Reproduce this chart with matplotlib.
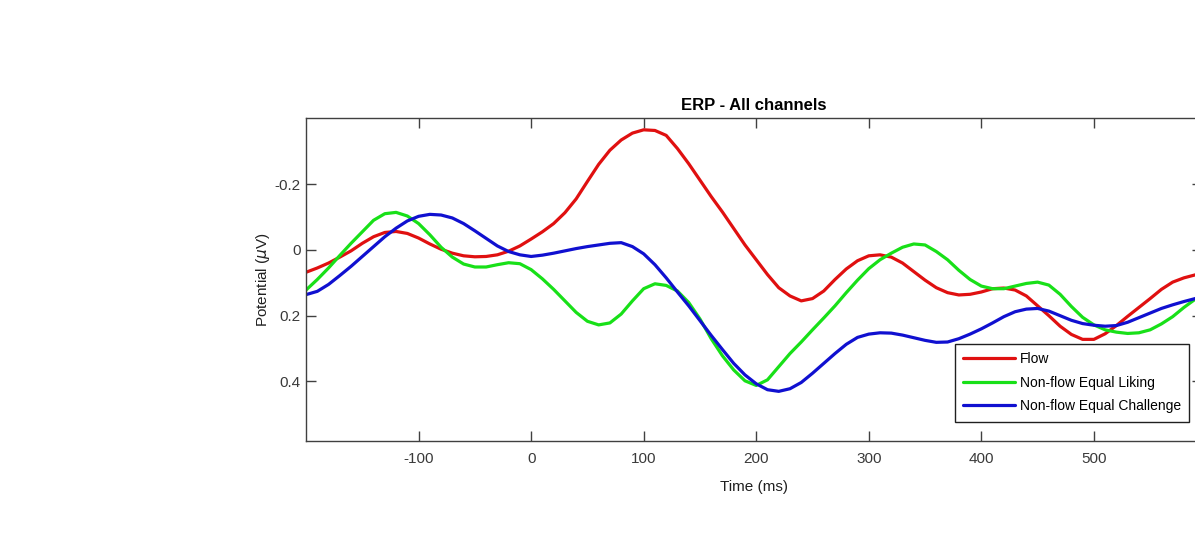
import matplotlib.pyplot as plt
import numpy as np

# Grand-average ERP over all channels, sampled every 10 ms
time_ms = np.arange(-200, 601, 10)

flow = [
    0.068, 0.055, 0.040, 0.022, 0.003, -0.020, -0.040, -0.053, -0.056, -0.050,
    -0.036, -0.018, -0.002, 0.010, 0.018, 0.021, 0.020, 0.015, 0.004, -0.012,
    -0.033, -0.055, -0.080, -0.113, -0.155, -0.208, -0.260, -0.303, -0.334, -0.355,
    -0.365, -0.363, -0.348, -0.308, -0.262, -0.212, -0.162, -0.115, -0.065, -0.015,
    0.030, 0.075, 0.115, 0.140, 0.155, 0.148, 0.125, 0.090, 0.058, 0.033,
    0.018, 0.015, 0.022, 0.040, 0.066, 0.092, 0.115, 0.130, 0.137, 0.135,
    0.128, 0.118, 0.116, 0.122, 0.140, 0.170, 0.200, 0.232, 0.257, 0.272,
    0.272, 0.255, 0.230, 0.202, 0.175, 0.148, 0.120, 0.098, 0.085, 0.076,
    0.070,
]
equal_liking = [
    0.122, 0.090, 0.055, 0.017, -0.020, -0.055, -0.090, -0.110, -0.114, -0.103,
    -0.080, -0.046, -0.008, 0.022, 0.043, 0.052, 0.052, 0.045, 0.039, 0.042,
    0.060, 0.088, 0.120, 0.155, 0.190, 0.217, 0.228, 0.222, 0.195, 0.155,
    0.118, 0.103, 0.108, 0.125, 0.160, 0.210, 0.270, 0.322, 0.365, 0.398,
    0.412, 0.395, 0.355, 0.315, 0.280, 0.243, 0.207, 0.170, 0.130, 0.092,
    0.057, 0.030, 0.010, -0.008, -0.018, -0.015, 0.005, 0.030, 0.062, 0.090,
    0.110, 0.118, 0.118, 0.110, 0.102, 0.098, 0.107, 0.135, 0.172, 0.205,
    0.228, 0.243, 0.250, 0.254, 0.252, 0.243, 0.225, 0.203, 0.175, 0.150,
    0.130,
]
equal_challenge = [
    0.136, 0.126, 0.105, 0.078, 0.050, 0.020, -0.010, -0.040, -0.066, -0.088,
    -0.102, -0.108, -0.106, -0.097, -0.080, -0.058, -0.035, -0.012, 0.005, 0.015,
    0.020, 0.016, 0.010, 0.003, -0.004, -0.010, -0.015, -0.020, -0.022, -0.010,
    0.012, 0.045, 0.085, 0.128, 0.170, 0.215, 0.260, 0.303, 0.345, 0.380,
    0.407, 0.425, 0.430, 0.422, 0.403, 0.375, 0.345, 0.315, 0.287, 0.266,
    0.256, 0.252, 0.253, 0.259, 0.267, 0.275, 0.281, 0.280, 0.270, 0.256,
    0.240, 0.222, 0.203, 0.188, 0.180, 0.178, 0.186, 0.200, 0.214, 0.224,
    0.229, 0.232, 0.230, 0.220, 0.206, 0.192, 0.178, 0.167, 0.157, 0.148,
    0.140,
]

labels = ["Flow", "Non-flow Equal Liking", "Non-flow Equal Challenge"]
colors = ["#e01010", "#18e018", "#1010d0"]

x_ticks = [-100, 0, 100, 200, 300, 400, 500]
y_ticks = [-0.2, 0, 0.2, 0.4]
y_tick_labels = ["-0.2", "0", "0.2", "0.4"]

plt.rcParams["font.family"] = ["Liberation Sans", "DejaVu Sans"]
plt.rcParams["axes.unicode_minus"] = False

fig = plt.figure(figsize=(11.95, 5.36), dpi=100)
# the axes run a little past the right edge of the figure
ax = fig.add_axes([0.2561, 0.1778, 0.7497, 0.6015])

for series, label, color in zip([flow, equal_liking, equal_challenge], labels, colors):
    ax.plot(time_ms, series, color=color, linewidth=2.3, label=label,
            solid_joinstyle="round", solid_capstyle="round")

# negative up, as usual for ERP plots
ax.set_xlim(-200, 596)
ax.set_ylim(0.58, -0.4)
ax.set_xticks(x_ticks)
ax.set_yticks(y_ticks)
ax.set_yticklabels(y_tick_labels)

axis_gray = "#404040"
for spine in ax.spines.values():
    spine.set_color(axis_gray)
    spine.set_linewidth(1.0)
ax.tick_params(direction="in", length=7, width=1.0, top=True, right=True,
               colors=axis_gray, labelsize=11, pad=4)
ax.tick_params(axis="x", pad=8)
for lbl in ax.get_xticklabels() + ax.get_yticklabels():
    lbl.set_color("#3a3a3a")

ax.set_title("ERP - All channels", fontsize=12, fontweight="bold", pad=6)
ax.set_xlabel("Time (ms)", fontsize=11, labelpad=10, color="#202020")
ax.set_ylabel(r"Potential ($\mu$V)", fontsize=11, labelpad=2, color="#202020")

leg = ax.legend(loc="upper left", bbox_to_anchor=(955 / 1195, 1 - 344 / 536),
                bbox_transform=fig.transFigure, borderaxespad=0, fontsize=10,
                handlelength=3.75, handletextpad=0.3, labelspacing=0.68,
                borderpad=0.6, fancybox=False, framealpha=1)
leg.get_frame().set_edgecolor("#202020")
leg.get_frame().set_linewidth(1.0)

fig.savefig("out.png", dpi=100)
